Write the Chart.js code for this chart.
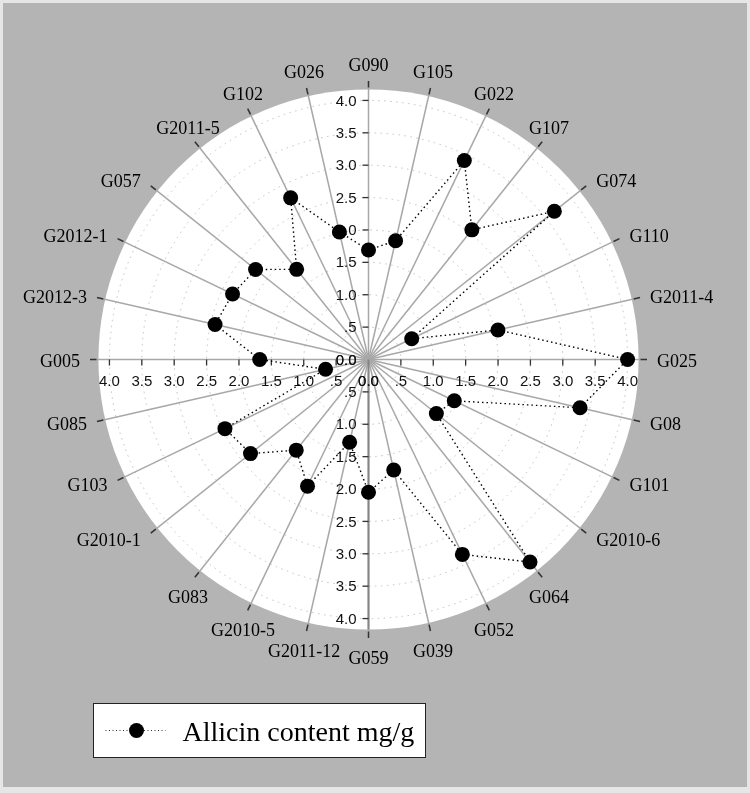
<!DOCTYPE html>
<html>
<head>
<meta charset="utf-8">
<script src="https://cdn.jsdelivr.net/npm/chart.js@4/dist/chart.umd.min.js"></script>
<style>
html,body{margin:0;padding:0;background:#e9e9e9;}
#wrap{width:750px;height:793px;position:relative;}
canvas{display:block;}
</style>
</head>
<body>
<div id="wrap"><canvas id="c" width="750" height="793"></canvas></div>
<script>
// ---- data ----
const categories = ['G090','G105','G022','G107','G074','G110','G2011-4','G025','G08','G101','G2010-6','G064','G052','G039','G059','G2011-12','G2010-5','G083','G2010-1','G103','G085','G005','G2012-3','G2012-1','G057','G2011-5','G102','G026'];
const allicin = [1.69,1.88,3.41,2.56,3.67,0.74,2.05,4.0,3.35,1.47,1.34,4.0,3.34,1.75,2.05,1.31,2.17,1.79,2.33,2.46,0.68,1.68,2.43,2.33,2.23,1.78,2.77,2.02];
const seriesName = 'Allicin content mg/g';
const tickValues = [0,0.5,1,1.5,2,2.5,3,3.5,4];
const tickLabels = ['0.0','.5','1.0','1.5','2.0','2.5','3.0','3.5','4.0'];
const axisMax = 4.3;      // end of spokes
const discMax = 4.17;     // white disc
const stubStart = 4.2;    // dark stubs beyond disc

const decor = {
  id: 'decor',
  beforeDraw(chart) {
    const ctx = chart.ctx, s = chart.scales.r;
    ctx.save();
    ctx.fillStyle = '#e6e6e6';
    ctx.fillRect(0, 0, chart.width, chart.height);
    ctx.fillStyle = '#b4b4b4';
    ctx.fillRect(3, 3, chart.width - 6, chart.height - 9);
    ctx.beginPath();
    ctx.arc(s.xCenter, s.yCenter, s.getDistanceFromCenterForValue(discMax), 0, Math.PI * 2);
    ctx.fillStyle = '#ffffff';
    ctx.fill();
    ctx.restore();
  },
  beforeDatasetsDraw(chart) {
    const ctx = chart.ctx, s = chart.scales.r;
    const n = categories.length;
    ctx.save();
    // dark stubs at the end of every spoke
    ctx.strokeStyle = '#333';
    ctx.lineWidth = 1.5;
    for (let i = 0; i < n; i++) {
      const a = s.getPointPosition(i, s.getDistanceFromCenterForValue(stubStart));
      const b = s.getPointPosition(i, s.getDistanceFromCenterForValue(axisMax));
      ctx.beginPath(); ctx.moveTo(a.x, a.y); ctx.lineTo(b.x, b.y); ctx.stroke();
    }
    // darker lower axis
    const bottomIdx = n / 2;
    const pb = s.getPointPosition(bottomIdx, s.getDistanceFromCenterForValue(discMax));
    ctx.strokeStyle = '#858585';
    ctx.lineWidth = 2;
    ctx.beginPath(); ctx.moveTo(s.xCenter, s.yCenter); ctx.lineTo(pb.x, pb.y); ctx.stroke();

    // four value axes with ticks and labels
    const axes = [0, n / 4, n / 2, 3 * n / 4];
    ctx.font = '15px "Liberation Sans", Arial, sans-serif';
    ctx.fillStyle = '#111';
    axes.forEach((idx, k) => {
      const vertical = (k === 0 || k === 2);
      tickValues.forEach((v, j) => {
        const p = s.getPointPosition(idx, s.getDistanceFromCenterForValue(v));
        ctx.strokeStyle = '#333';
        ctx.lineWidth = 1.3;
        ctx.beginPath();
        if (vertical) {
          if (j > 0) { ctx.moveTo(p.x - 6, p.y); ctx.lineTo(p.x, p.y); ctx.stroke(); }
          ctx.textAlign = 'right'; ctx.textBaseline = 'middle';
          ctx.fillText(tickLabels[j], p.x - 12, p.y + 1);
        } else {
          if (j > 0) { ctx.moveTo(p.x, p.y); ctx.lineTo(p.x, p.y + 6); ctx.stroke(); }
          ctx.textAlign = 'center'; ctx.textBaseline = 'middle';
          ctx.fillText(tickLabels[j], p.x, p.y + 22);
        }
      });
    });
    ctx.restore();
  },
  afterDraw(chart) {
    const ctx = chart.ctx, s = chart.scales.r;
    const n = categories.length;
    ctx.save();
    // category labels, anchored at the end of each spoke
    ctx.font = '18px "Liberation Serif", "Times New Roman", serif';
    ctx.fillStyle = '#000';
    ctx.textAlign = 'center';
    ctx.textBaseline = 'alphabetic';
    const endR = s.getDistanceFromCenterForValue(axisMax);
    for (let i = 0; i < n; i++) {
      const th = i * 2 * Math.PI / n;
      const sn = Math.sin(th), cs = Math.cos(th);
      const w = ctx.measureText(categories[i]).width;
      const e = s.getPointPosition(i, endR);
      let cx, cy;
      if (Math.abs(sn) > 0.72) {           // side labels
        cx = e.x + Math.sign(sn) * (w / 2 + 10);
        cy = e.y - cs * 9 + 1;
      } else if (cs > 0) {                  // upper labels
        cx = e.x + sn * 11;
        cy = e.y - (12 * cs + 4);
      } else {                              // lower labels
        cx = e.x + sn * 11;
        cy = e.y + 20;
      }
      ctx.fillText(categories[i], cx, cy + 6);
    }
    // legend box
    const lx = 93.5, ly = 703.5, lw = 332, lh = 54;
    ctx.fillStyle = '#fff';
    ctx.fillRect(lx, ly, lw, lh);
    ctx.strokeStyle = '#222';
    ctx.lineWidth = 1;
    ctx.strokeRect(lx, ly, lw, lh);
    const my = ly + lh / 2;
    ctx.setLineDash([1, 2.5]);
    ctx.strokeStyle = '#333';
    ctx.beginPath(); ctx.moveTo(lx + 12, my); ctx.lineTo(lx + 72, my); ctx.stroke();
    ctx.setLineDash([]);
    ctx.fillStyle = '#000';
    ctx.beginPath(); ctx.arc(lx + 43, my, 7.5, 0, Math.PI * 2); ctx.fill();
    ctx.font = '28px "Liberation Serif", "Times New Roman", serif';
    ctx.textAlign = 'left';
    ctx.textBaseline = 'alphabetic';
    ctx.fillText(chart.data.datasets[0].label, lx + 89, my + 10);
    ctx.restore();
  }
};

new Chart(document.getElementById('c'), {
  type: 'radar',
  data: {
    labels: categories,
    datasets: [{
      label: seriesName,
      data: allicin,
      borderColor: '#000',
      borderWidth: 1.4,
      borderDash: [1.5, 3],
      backgroundColor: 'rgba(0,0,0,0)',
      fill: false,
      tension: 0,
      pointRadius: 7.5,
      pointBackgroundColor: '#000',
      pointBorderWidth: 0,
      pointBorderColor: '#000'
    }]
  },
  options: {
    responsive: false,
    animation: false,
    devicePixelRatio: 1,
    layout: { padding: { left: 90, top: 81, right: 103, bottom: 155 } },
    plugins: { legend: { display: false }, tooltip: { enabled: false } },
    elements: { line: { borderJoinStyle: 'round' } },
    scales: {
      r: {
        min: 0,
        max: axisMax,
        bounds: 'data',
        startAngle: 0,
        ticks: { display: false, stepSize: 0.5, includeBounds: false },
        pointLabels: { display: false },
        grid: {
          circular: true,
          lineWidth: 1,
          color: (c) => (c.tick && c.tick.value <= 4.001) ? '#c2c2c2' : 'rgba(0,0,0,0)'
        },
        border: { dash: [1.5, 4.5] },
        angleLines: { color: '#a8a8a8', lineWidth: 1.5 },
        afterFit(s) {
          s.xCenter = s.left + s.width / 2;
          s.yCenter = s.top + s.height / 2;
          s.drawingArea = Math.min(s.width, s.height) / 2;
        }
      }
    }
  },
  plugins: [decor]
});
</script>
</body>
</html>
